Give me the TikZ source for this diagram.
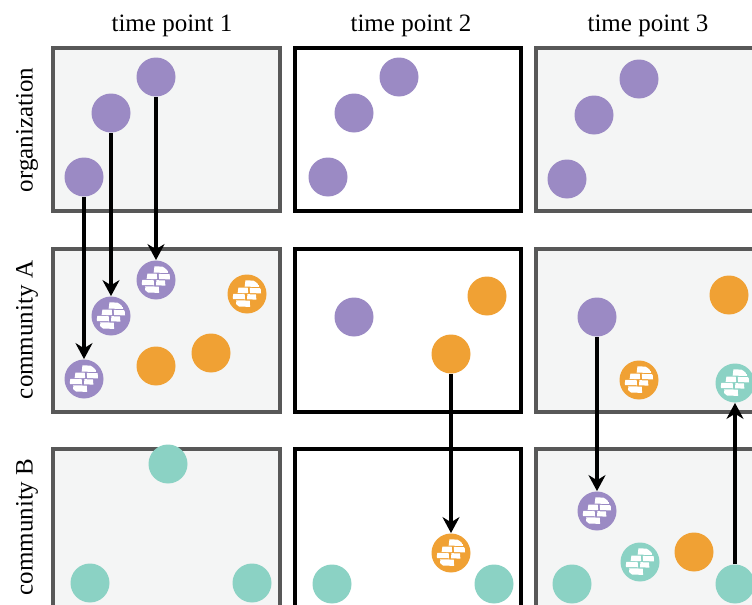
\documentclass[tikz,border=0pt]{standalone}
\usepackage{fontspec}
\setmainfont{Liberation Serif}
\usepackage{tikz}
\usetikzlibrary{arrows.meta}
\definecolor{purp}{RGB}{155,138,196}
\definecolor{oran}{RGB}{240,161,52}
\definecolor{mint}{RGB}{139,210,196}
\definecolor{panelfill}{RGB}{244,245,245}
\definecolor{panelgray}{RGB}{88,88,88}
\tikzset{>={Stealth[length=8pt,width=8.5pt]}}
\tikzset{
  ball/.style={circle, minimum size=19.5pt, inner sep=0pt},
  bricks/.style={ball, fill=#1, path picture={
      \begin{scope}[shift={(path picture bounding box.center)}, x=9.75pt, y=9.75pt]
        \clip (0,0) circle (0.76);
        \fill[white] (-0.12,0.38) -- (0.62,0.36) -- (0.58,0.68) -- (-0.08,0.7) -- cycle;
        \fill[white] (-0.48,0.06) -- (0.06,0.04) -- (0.04,0.32) -- (-0.44,0.33) -- cycle;
        \fill[white] (0.16,0.05) -- (0.72,0.03) -- (0.7,0.3) -- (0.14,0.31) -- cycle;
        \fill[white] (-0.74,-0.26) -- (-0.1,-0.27) -- (-0.12,0.0) -- (-0.7,0.01) -- cycle;
        \fill[white] (0.0,-0.27) -- (0.48,-0.29) -- (0.46,-0.02) -- (0.02,-0.01) -- cycle;
        \fill[white] (-0.58,-0.64) -- (0.16,-0.66) -- (0.14,-0.34) -- (-0.54,-0.32) -- cycle;
      \end{scope}}},
  oldbox/.style={draw=panelgray, fill=panelfill, line width=1.6pt},
  newbox/.style={draw=black, fill=white, line width=1.6pt},
  jump/.style={->, line width=1.8pt},
  lbl/.style={font=\fontsize{12.5}{15}\selectfont}
}

\begin{document}
\begin{tikzpicture}[x=0.5pt, y=-0.5pt]
  \clip (0,0) rectangle (752,605);

  % panels
  \draw[oldbox] (53,48) rectangle (280,211);
  \draw[newbox] (295,48) rectangle (521,211);
  \draw[oldbox] (536,48) rectangle (780,211);
  \draw[oldbox] (53,249) rectangle (280,412);
  \draw[newbox] (295,249) rectangle (521,412);
  \draw[oldbox] (536,249) rectangle (780,412);
  \draw[oldbox] (53,449) rectangle (280,640);
  \draw[newbox] (295,449) rectangle (521,640);
  \draw[oldbox] (536,449) rectangle (780,640);

  \node[lbl] (t1) at (172,26) {time point 1};
  \node[lbl] (t2) at (411,26) {time point 2};
  \node[lbl] (t3) at (648,26) {time point 3};

  \node[lbl, rotate=90] (rorg) at (27,130) {organization};
  \node[lbl, rotate=90] (rca) at (27,330) {community A};
  \node[lbl, rotate=90] (rcb) at (27,527) {community B};

  % organization
  \node[ball, fill=purp] (o1a) at (84,177) {};
  \node[ball, fill=purp] (o1b) at (111,113) {};
  \node[ball, fill=purp] (o1c) at (156,77) {};
  \node[ball, fill=purp] (o2a) at (328,177) {};
  \node[ball, fill=purp] (o2b) at (354,113) {};
  \node[ball, fill=purp] (o2c) at (399,77) {};
  \node[ball, fill=purp] (o3a) at (567,179) {};
  \node[ball, fill=purp] (o3b) at (594,115) {};
  \node[ball, fill=purp] (o3c) at (639,79) {};

  % community A
  \node[bricks=purp] (a1a) at (84,379) {};
  \node[bricks=purp] (a1b) at (111,316) {};
  \node[bricks=purp] (a1c) at (156,280) {};
  \node[bricks=oran] (a1d) at (247,294) {};
  \node[ball, fill=oran] (a1e) at (156,366) {};
  \node[ball, fill=oran] (a1f) at (211,353) {};
  \node[ball, fill=purp] (a2a) at (354,317) {};
  \node[ball, fill=oran] (a2b) at (487,296) {};
  \node[ball, fill=oran] (a2c) at (451,354) {};
  \node[ball, fill=purp] (a3a) at (597,317) {};
  \node[ball, fill=oran] (a3b) at (729,295) {};
  \node[bricks=oran] (a3c) at (639,380) {};
  \node[bricks=mint] (a3d) at (735,383) {};

  % community B
  \node[ball, fill=mint] (b1a) at (168,464) {};
  \node[ball, fill=mint] (b1b) at (90,583) {};
  \node[ball, fill=mint] (b1c) at (252,583) {};
  \node[bricks=oran] (b2a) at (451,553) {};
  \node[ball, fill=mint] (b2b) at (332,584) {};
  \node[ball, fill=mint] (b2c) at (494,584) {};
  \node[bricks=purp] (b3a) at (597,511) {};
  \node[bricks=mint] (b3b) at (640,562) {};
  \node[ball, fill=oran] (b3c) at (694,552) {};
  \node[ball, fill=mint] (b3d) at (572,584) {};
  \node[ball, fill=mint] (b3e) at (735,584) {};

  \draw[jump] (o1a) -- (a1a);
  \draw[jump] (o1b) -- (a1b);
  \draw[jump] (o1c) -- (a1c);
  \draw[jump] (a2c) -- (b2a);
  \draw[jump] (a3a) -- (b3a);
  \draw[jump] (b3e) -- (a3d);
\end{tikzpicture}
\end{document}
